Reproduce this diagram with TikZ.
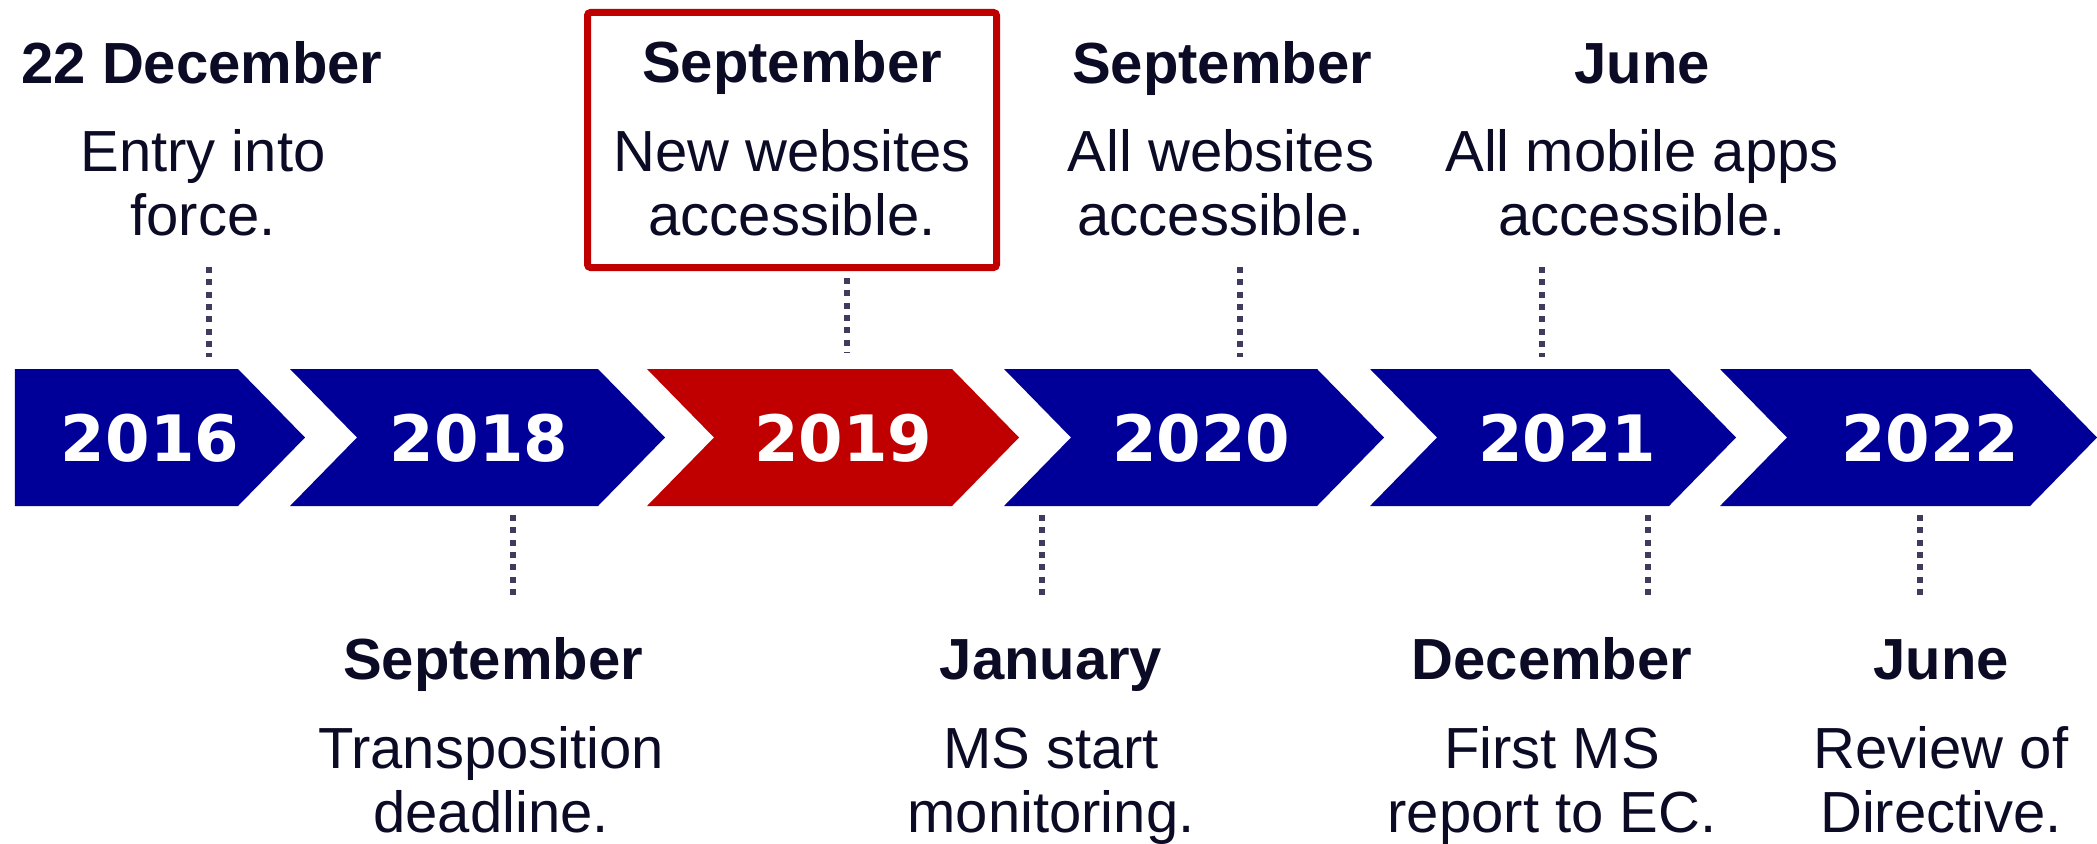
\documentclass[tikz,border=0pt]{standalone}
\usepackage{fontspec}
\setmainfont{Liberation Sans}
\newfontfamily\yearfont{DejaVu Sans}
\usetikzlibrary{positioning}
\definecolor{eublue}{HTML}{000099}
\definecolor{eured}{HTML}{C00000}
\definecolor{ink}{HTML}{0B0B26}
\definecolor{dotc}{HTML}{3F3B5C}

\begin{document}
\begin{tikzpicture}[
                yr/.style={inner sep=0pt, text=white, font=\yearfont\bfseries\fontsize{18.2}{20}\selectfont},
                mon/.style={anchor=base, inner sep=0pt, text=ink, font=\bfseries\fontsize{16.5}{17.9}\selectfont},
                ev/.style={anchor=base, inner sep=0pt, text=ink, align=center, font=\fontsize{16.5}{18}\selectfont},
                tick/.style={draw=dotc, line width=0.06cm, dash pattern=on 0.06cm off 0.063cm},
                hi/.style={draw=eured, line width=0.07cm, rounded corners=0.03cm, minimum width=4.09cm, minimum height=2.55cm, inner sep=0pt}
            ]
                \useasboundingbox (0,0) rectangle (20.97,-8.43);

% arrows
                \fill[eublue] (0.15,-3.69) -- (2.38,-3.69) -- (3.05,-4.375) -- (2.38,-5.06) -- (0.15,-5.06) -- cycle;
                \fill[eublue] (2.90,-3.69) -- (5.98,-3.69) -- (6.65,-4.375) -- (5.98,-5.06) -- (2.90,-5.06) -- (3.57,-4.375) -- cycle;
                \fill[eured] (6.47,-3.69) -- (9.52,-3.69) -- (10.19,-4.375) -- (9.52,-5.06) -- (6.47,-5.06) -- (7.14,-4.375) -- cycle;
                \fill[eublue] (10.04,-3.69) -- (13.17,-3.69) -- (13.84,-4.375) -- (13.17,-5.06) -- (10.04,-5.06) -- (10.71,-4.375) -- cycle;
                \fill[eublue] (13.70,-3.69) -- (16.69,-3.69) -- (17.36,-4.375) -- (16.69,-5.06) -- (13.70,-5.06) -- (14.37,-4.375) -- cycle;
                \fill[eublue] (17.20,-3.69) -- (20.30,-3.69) -- (20.97,-4.375) -- (20.30,-5.06) -- (17.20,-5.06) -- (17.87,-4.375) -- cycle;

% years
                \node[yr] (y16) at (1.50,-4.38) {2016};
                \node[yr] (y18) at (4.79,-4.38) {2018};
                \node[yr] (y19) at (8.43,-4.38) {2019};
                \node[yr] (y20) at (12.01,-4.38) {2020};
                \node[yr] (y21) at (15.67,-4.38) {2021};
                \node[yr] (y22) at (19.30,-4.38) {2022};

% labels above
                \node[hi] (b19) at (7.92,-1.40) {};

                \node[mon] (m16) at (2.02,-0.83) {22 December};
                \node[ev] (e16) at (2.03,-2.35) {Entry into\\force.};
                \node[mon] (m19) at (7.92,-0.82) {September};
                \node[ev] (e19) at (7.92,-2.35) {New websites\\accessible.};
                \node[mon] (m20) at (12.22,-0.83) {September};
                \node[ev] (e20) at (12.21,-2.35) {All websites\\accessible.};
                \node[mon] (m21) at (16.42,-0.83) {June};
                \node[ev] (e21) at (16.42,-2.35) {All mobile apps\\accessible.};

% labels below
                \node[mon] (m18) at (4.93,-6.79) {September};
                \node[ev] (e18) at (4.91,-8.32) {Transposition\\deadline.};
                \node[mon] (m20b) at (10.51,-6.79) {January};
                \node[ev] (e20b) at (10.51,-8.32) {MS start\\monitoring.};
                \node[mon] (m21b) at (15.52,-6.79) {December};
                \node[ev] (e21b) at (15.52,-8.32) {First MS\\report to EC.};
                \node[mon] (m22) at (19.41,-6.79) {June};
                \node[ev] (e22) at (19.41,-8.32) {Review of\\Directive.};

% dotted ticks
                \coordinate (t16a) at (2.09,-2.67);
                \coordinate (t16b) at (2.09,-3.57);
                \coordinate (t19a) at (8.47,-2.78);
                \coordinate (t19b) at (8.47,-3.53);
                \coordinate (t20a) at (12.40,-2.67);
                \coordinate (t20b) at (12.40,-3.57);
                \coordinate (t21a) at (15.42,-2.67);
                \coordinate (t21b) at (15.42,-3.57);

                \coordinate (d18a) at (5.13,-5.15);
                \coordinate (d18b) at (5.13,-5.98);
                \coordinate (d20a) at (10.42,-5.15);
                \coordinate (d20b) at (10.42,-5.98);
                \coordinate (d21a) at (16.48,-5.15);
                \coordinate (d21b) at (16.48,-5.98);
                \coordinate (d22a) at (19.20,-5.15);
                \coordinate (d22b) at (19.20,-5.98);

                \draw[tick] (t16a) -- (t16b);
                \draw[tick] (t19a) -- (t19b);
                \draw[tick] (t20a) -- (t20b);
                \draw[tick] (t21a) -- (t21b);
                \draw[tick] (d18a) -- (d18b);
                \draw[tick] (d20a) -- (d20b);
                \draw[tick] (d21a) -- (d21b);
                \draw[tick] (d22a) -- (d22b);

            \end{tikzpicture}
\end{document}
